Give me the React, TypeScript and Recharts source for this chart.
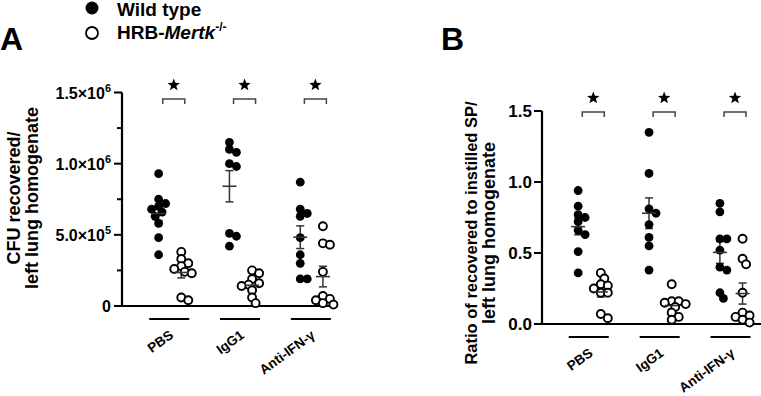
import React from "react";
import { ScatterChart, Scatter, XAxis, YAxis, ErrorBar } from "recharts";

const groups = ["PBS", "IgG1", "Anti-IFN-γ"];

// CFU recovered / left lung homogenate, one list per treatment
const cfuWildType = [
  [9.3e5, 7.5e5, 7.2e5, 7.0e5, 6.8e5, 6.6e5, 6.3e5, 5.8e5, 4.8e5, 3.6e5],
  [1.15e6, 1.1e6, 1.08e6, 1.0e6, 9.8e5, 5.1e5, 4.9e5, 4.2e5],
  [8.7e5, 6.8e5, 6.5e5, 6.3e5, 4.8e5, 3.6e5, 3.0e5, 1.9e5, 1.9e5],
];
const cfuMertk = [
  [3.8e5, 3.3e5, 3.0e5, 2.8e5, 2.6e5, 2.4e5, 2.3e5, 6e4, 4e4],
  [2.5e5, 2.3e5, 1.9e5, 1.6e5, 1.5e5, 1.4e5, 1.1e5, 6e4, 2e4],
  [5.6e5, 4.4e5, 4.3e5, 2.4e5, 7e4, 5e4, 4e4, 2e4, 1e4],
];

// ratio of recovered to instilled SP
const ratioWildType = [
  [0.94, 0.83, 0.77, 0.75, 0.72, 0.66, 0.63, 0.51, 0.36],
  [1.35, 1.06, 0.81, 0.78, 0.7, 0.61, 0.55, 0.38],
  [0.85, 0.79, 0.6, 0.6, 0.52, 0.4, 0.38, 0.22, 0.18],
];
const ratioMertk = [
  [0.36, 0.32, 0.28, 0.27, 0.25, 0.22, 0.22, 0.07, 0.04],
  [0.28, 0.16, 0.16, 0.15, 0.14, 0.12, 0.08, 0.05, 0.03],
  [0.6, 0.46, 0.42, 0.22, 0.08, 0.06, 0.05, 0.03, 0.01],
];

const cfuTicks = [0, 2.5e5, 5e5, 7.5e5, 1e6, 1.25e6, 1.5e6];
const ratioTicks = [0, 0.5, 1.0, 1.5];

const FONT = "'Liberation Sans', Arial, Helvetica, sans-serif";
const H = 396;
const Y_AXIS_W = 100;
const X_AXIS_H = 60;
const WT_OFF = -0.15;
const KO_OFF = 0.17;

const mean = (v: number[]) => v.reduce((a, b) => a + b, 0) / v.length;
const sem = (v: number[]) => {
  const m = mean(v);
  const sd = Math.sqrt(v.reduce((a, b) => a + (b - m) ** 2, 0) / (v.length - 1));
  return sd / Math.sqrt(v.length);
};

// simple beeswarm: spread overlapping dots sideways around the column
function swarm(values: number[], center: number, xPx: number, yPx: number) {
  const minDist = 6;
  const step = 3.5;
  const placed: { dx: number; py: number }[] = [];
  const out: { x: number; y: number }[] = new Array(values.length);
  const order = values.map((_, i) => i).sort((a, b) => values[b] - values[a]);
  for (const i of order) {
    const py = values[i] * yPx;
    let dx = 0;
    for (let k = 0; k < 30; k++) {
      const off = (k % 2 ? 1 : -1) * Math.ceil(k / 2) * step;
      if (placed.every((p) => Math.hypot(p.dx - off, p.py - py) >= minDist)) {
        dx = off;
        break;
      }
    }
    placed.push({ dx, py });
    out[i] = { x: center + dx / xPx, y: values[i] };
  }
  return out;
}

const FilledDot = (p: any) => <circle cx={p.cx} cy={p.cy} r={4.4} fill="#000" />;
const OpenDot = (p: any) => (
  <circle cx={p.cx} cy={p.cy} r={4} fill="#fff" stroke="#000" strokeWidth={1.9} />
);
const MeanLine = (p: any) => (
  <line x1={p.cx - 7} x2={p.cx + 7} y1={p.cy} y2={p.cy} stroke="#333" strokeWidth={1.6} />
);

function starPath(cx: number, cy: number, R: number) {
  const r = R * 0.42;
  const pts: string[] = [];
  for (let i = 0; i < 10; i++) {
    const a = -Math.PI / 2 + (i * Math.PI) / 5;
    const rr = i % 2 ? r : R;
    pts.push(`${cx + rr * Math.cos(a)},${cy + rr * Math.sin(a)}`);
  }
  return pts.join(" ");
}

const Bracket = (p: any) => {
  const c = p.cx + 4.5;
  return (
    <g>
      <polyline
        points={`${c - 11},${p.cy + 5} ${c - 11},${p.cy} ${c + 11},${p.cy} ${c + 11},${p.cy + 5}`}
        fill="none"
        stroke="#444"
        strokeWidth={1.5}
      />
      <polygon points={starPath(c, p.cy - 14, 6.5)} fill="#000" />
    </g>
  );
};

function GroupTick(props: any) {
  const { x, y, payload } = props;
  return (
    <g>
      <line x1={x - 20} x2={x + 20} y1={y + 13} y2={y + 13} stroke="#000" strokeWidth={2.2} />
      <text
        transform={`translate(${x + 5},${y + 31}) rotate(-36)`}
        textAnchor="end"
        fontFamily={FONT}
        fontWeight="bold"
        fontSize={13.5}
        fill="#000"
      >
        {groups[payload.value]}
      </text>
    </g>
  );
}

function CfuTick(props: any) {
  const { x, y, payload } = props;
  const v = payload.value as number;
  if (v % 5e5 !== 0) {
    return <line x1={x - 5} x2={x} y1={y} y2={y} stroke="#000" strokeWidth={2} />;
  }
  const exp = v === 0 ? 0 : Math.floor(Math.log10(v));
  const mant = v / 10 ** exp;
  return (
    <g>
      <line x1={x - 8} x2={x} y1={y} y2={y} stroke="#000" strokeWidth={2} />
      <text x={x - 11} y={y + 6} textAnchor="end" fontFamily={FONT} fontWeight="bold" fontSize={16} fill="#000">
        {v === 0 ? (
          "0"
        ) : (
          <>
            {mant.toFixed(1)}×10<tspan dy={-7} fontSize={11}>{exp}</tspan>
          </>
        )}
      </text>
    </g>
  );
}

function RatioTick(props: any) {
  const { x, y, payload } = props;
  return (
    <g>
      <line x1={x - 8} x2={x} y1={y} y2={y} stroke="#000" strokeWidth={2} />
      <text x={x - 10} y={y + 6} textAnchor="end" fontFamily={FONT} fontWeight="bold" fontSize={17} fill="#000">
        {(payload.value as number).toFixed(1)}
      </text>
    </g>
  );
}

type PanelProps = {
  left: number;
  width: number;
  margin: { top: number; right: number; bottom: number; left: number };
  xDomain: [number, number];
  yMax: number;
  ticks: number[];
  tick: (p: any) => React.ReactElement;
  wt: number[][];
  ko: number[][];
  bracketY: number;
};

function DotPanel({ left, width, margin, xDomain, yMax, ticks, tick, wt, ko, bracketY }: PanelProps) {
  const plotW = width - margin.left - margin.right - Y_AXIS_W;
  const plotH = H - margin.top - margin.bottom - X_AXIS_H;
  const xPx = plotW / (xDomain[1] - xDomain[0]);
  const yPx = plotH / yMax;

  const wtDots = wt.flatMap((v, g) => swarm(v, g + WT_OFF, xPx, yPx));
  const koDots = ko.flatMap((v, g) => swarm(v, g + KO_OFF, xPx, yPx));
  const means = [
    ...wt.map((v, g) => ({ x: g + WT_OFF, y: mean(v), sem: sem(v) })),
    ...ko.map((v, g) => ({ x: g + KO_OFF, y: mean(v), sem: sem(v) })),
  ];
  const brackets = groups.map((_, g) => ({ x: g, y: bracketY }));

  return (
    <div style={{ position: "absolute", left, top: 0 }}>
      <ScatterChart width={width} height={H} margin={margin} style={{ overflow: "visible" }}>
        <XAxis
          type="number"
          dataKey="x"
          domain={xDomain}
          ticks={[0, 1, 2]}
          interval={0}
          height={X_AXIS_H}
          tickSize={0}
          tickMargin={0}
          tickLine={false}
          tick={GroupTick}
          axisLine={{ stroke: "#000", strokeWidth: 2.2 }}
        />
        <YAxis
          type="number"
          dataKey="y"
          domain={[0, yMax]}
          ticks={ticks}
          interval={0}
          width={Y_AXIS_W}
          tickSize={0}
          tickMargin={0}
          tickLine={false}
          tick={tick}
          axisLine={{ stroke: "#000", strokeWidth: 2.2 }}
        />
        <Scatter data={wtDots} shape={FilledDot} isAnimationActive={false} />
        <Scatter data={koDots} shape={OpenDot} isAnimationActive={false} />
        <Scatter data={means} shape={MeanLine} isAnimationActive={false}>
          <ErrorBar dataKey="sem" direction="y" width={4} stroke="#333" strokeWidth={1.5} />
        </Scatter>
        <Scatter data={brackets} shape={Bracket} isAnimationActive={false} />
      </ScatterChart>
    </div>
  );
}

function Overlay() {
  const t = { fontFamily: FONT, fontWeight: "bold" as const, fill: "#000" };
  return (
    <svg width={761} height={H} style={{ position: "absolute", left: 0, top: 0, pointerEvents: "none" }}>
      <circle cx={92} cy={8} r={6.5} fill="#000" />
      <text x={117} y={16} fontSize={19} {...t}>Wild type</text>
      <circle cx={92} cy={33} r={6} fill="#fff" stroke="#000" strokeWidth={1.8} />
      <text x={117} y={39} fontSize={19} {...t}>
        HRB-<tspan fontStyle="italic">Mertk</tspan>
        <tspan dy={-8} fontSize={12}>-/-</tspan>
      </text>

      <text x={0} y={50} fontSize={32} {...t}>A</text>
      <text x={441} y={50} fontSize={32} {...t}>B</text>

      <text transform="translate(20,198) rotate(-90)" textAnchor="middle" fontSize={18} {...t}>
        CFU recovered/
      </text>
      <text transform="translate(38,198) rotate(-90)" textAnchor="middle" fontSize={18} {...t}>
        left lung homogenate
      </text>

      <text transform="translate(477,233) rotate(-90)" textAnchor="middle" fontSize={16.5} {...t}>
        Ratio of recovered to instilled SP/
      </text>
      <text transform="translate(495,233) rotate(-90)" textAnchor="middle" fontSize={18} {...t}>
        left lung homogenate
      </text>
    </svg>
  );
}

export default function App() {
  return (
    <div style={{ position: "absolute", left: 0, top: 0, width: 761, height: H, background: "#fff" }}>
      <DotPanel
        left={0}
        width={380}
        margin={{ top: 92.5, right: 42, bottom: 30, left: 22 }}
        xDomain={[-0.667, 2.383]}
        yMax={1.5e6}
        ticks={cfuTicks}
        tick={CfuTick}
        wt={cfuWildType}
        ko={cfuMertk}
        bracketY={1.454e6}
      />
      <DotPanel
        left={380}
        width={381}
        margin={{ top: 111, right: 0, bottom: 12, left: 62 }}
        xDomain={[-0.66, 2.43]}
        yMax={1.5}
        ticks={ratioTicks}
        tick={RatioTick}
        wt={ratioWildType}
        ko={ratioMertk}
        bracketY={1.493}
      />
      <Overlay />
    </div>
  );
}
